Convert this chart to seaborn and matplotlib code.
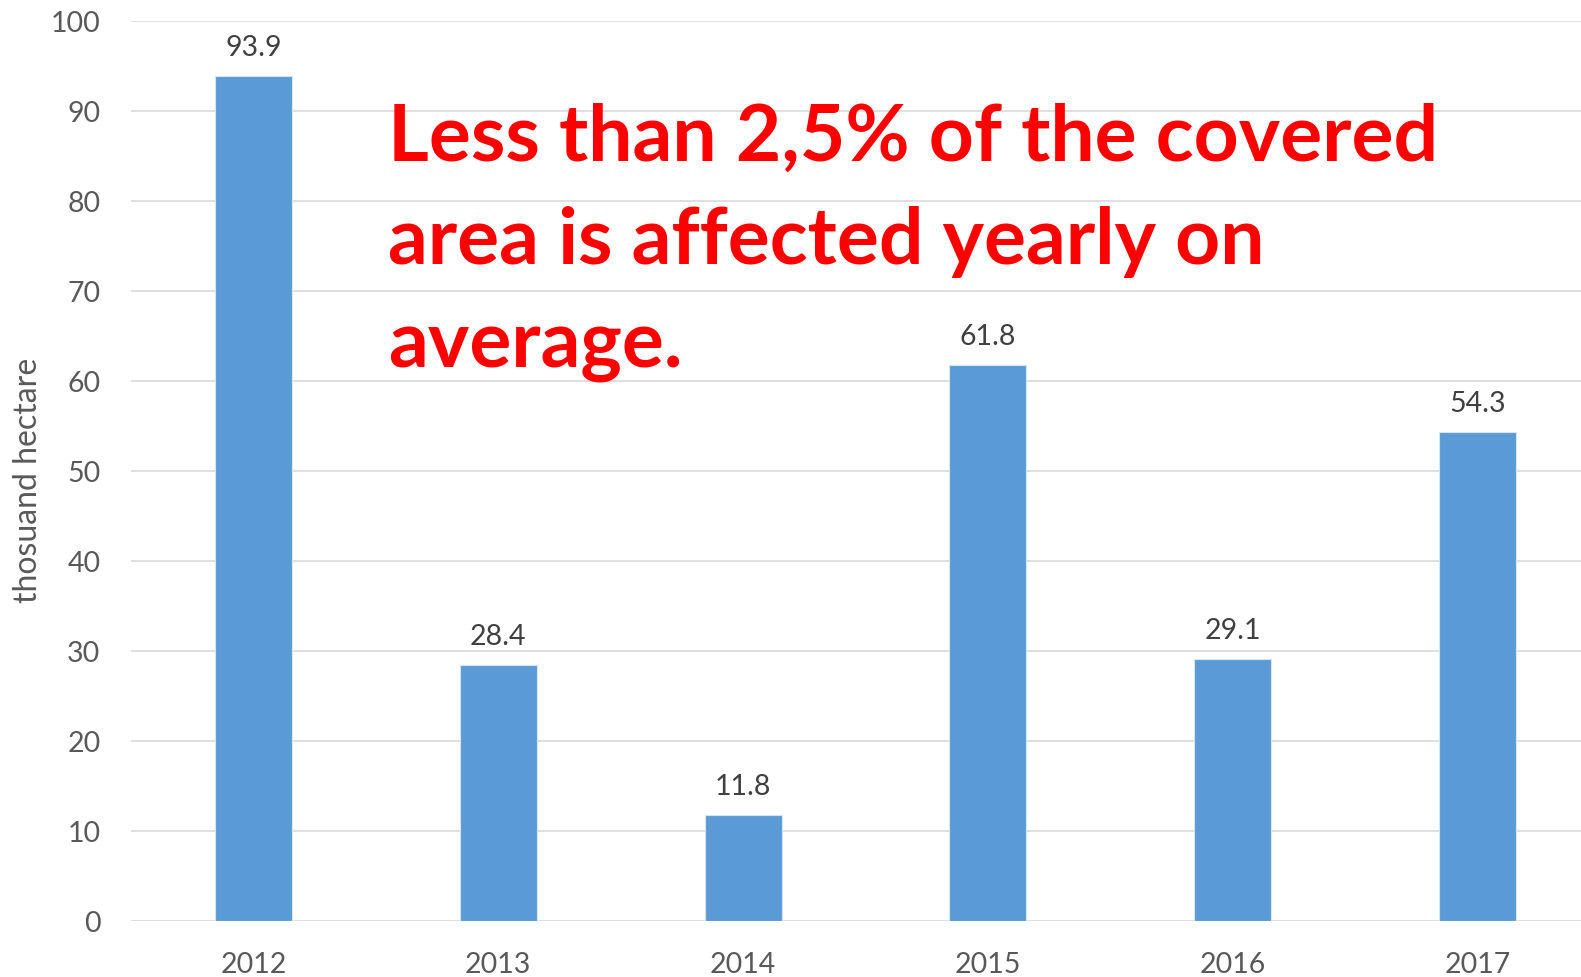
import matplotlib
matplotlib.use("Agg")
import matplotlib.pyplot as plt
import seaborn as sns
import pandas as pd

years = ["2012", "2013", "2014", "2015", "2016", "2017"]
values = [93.9, 28.4, 11.8, 61.8, 29.1, 54.3]
y_ticks = [0, 10, 20, 30, 40, 50, 60, 70, 80, 90, 100]
y_label = "thosuand hectare"
note_lines = ["Less than 2,5% of the covered", "area is affected yearly on", "average."]

sns.set_theme(style="white")
plt.rcParams['font.family'] = ['Lato', 'DejaVu Sans']

df = pd.DataFrame({"year": years, "value": values})

fig = plt.figure(figsize=(15.81, 9.77), dpi=100)
ax = fig.add_axes([131/1581, 56/977, (1600-131)/1581, 900/977])

sns.barplot(data=df, x="year", y="value", color="#5B9BD5", saturation=1,
            width=0.314, ax=ax, zorder=3, edgecolor="#D6E4F3", linewidth=0.8)

ax.set_ylim(0, 100)
ax.set_xlim(-0.5, 5.5)
ax.set_yticks(y_ticks)
ax.yaxis.grid(True, color="#D9D9D9", linewidth=1.2, zorder=0)
ax.set_axisbelow(True)
for s in ax.spines.values():
    s.set_visible(False)
ax.tick_params(axis="y", length=0, pad=22, labelsize=20.5, labelcolor="#595959")
ax.tick_params(axis="x", length=0, pad=22, labelsize=20.5, labelcolor="#595959")
ax.set_xlabel("")
ax.set_ylabel(y_label, fontsize=23, color="#595959")
ax.yaxis.set_label_coords(-0.06, 0.49)

for i, v in enumerate(values):
    ax.annotate(f"{v:.1f}", (i, v), xytext=(0, 11), textcoords="offset points",
                ha="center", va="bottom", fontsize=20.5, color="#404040")

baselines = [161, 264, 367]
for line, yb in zip(note_lines, baselines):
    fig.text(388/1581, 1 - yb/977, line, color="#FF0000", fontsize=56.5,
             fontweight="bold", ha="left", va="baseline")

fig.savefig("out.png", dpi=100)
